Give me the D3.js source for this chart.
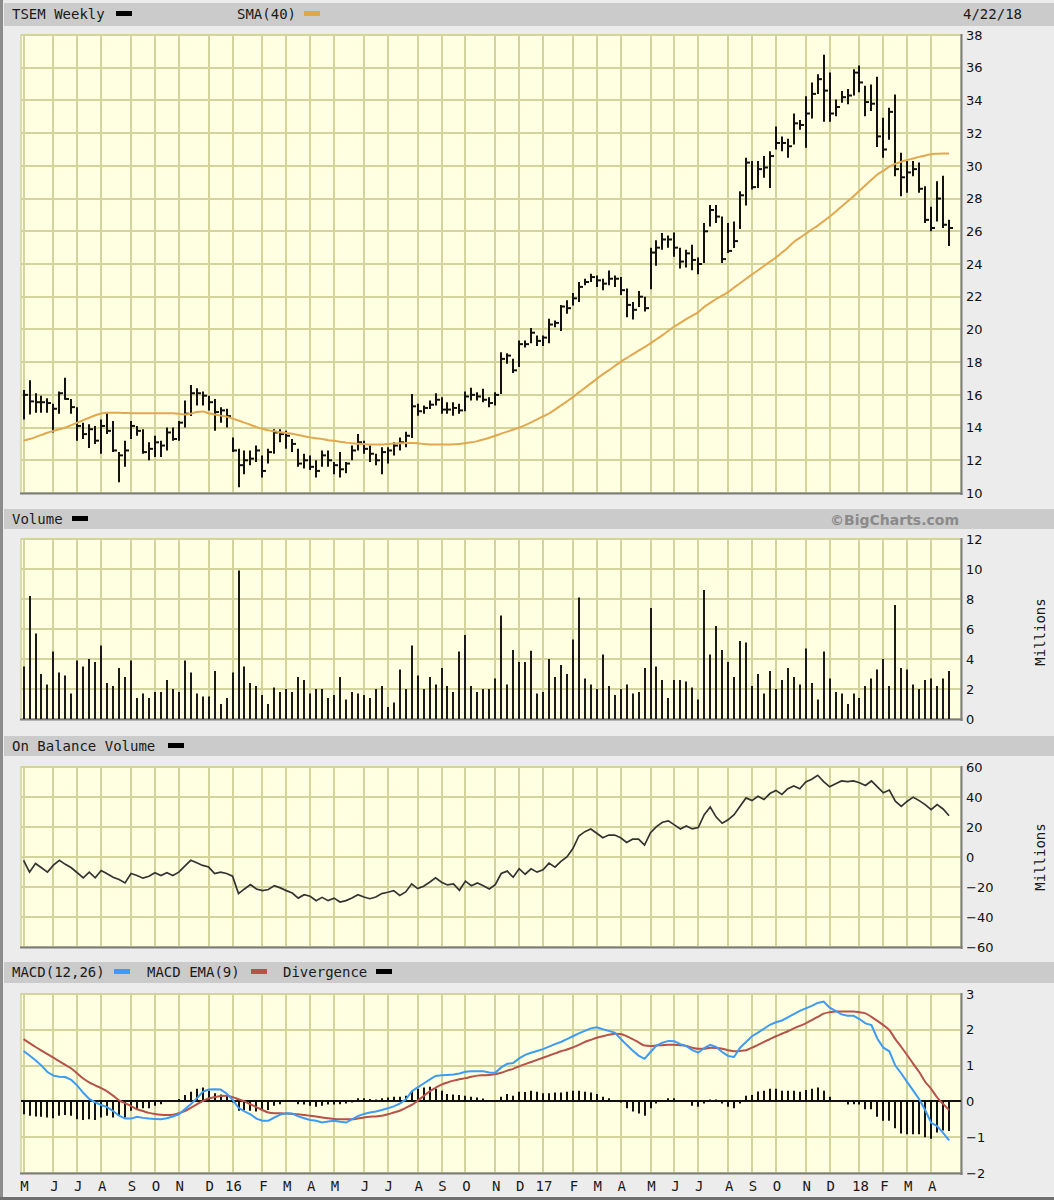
<!DOCTYPE html>
<html><head><meta charset="utf-8">
<script src="https://cdn.jsdelivr.net/npm/d3@7"></script>
<style>body{margin:0;background:#ececec}svg{display:block}</style>
</head><body><svg id="c" width="1054" height="1200"></svg>
<script>
// ---------- DATA ----------
const firstWeek = "2015-05-01", lastWeek = "2018-04-20";
const monthLabels = ["M","J","J","A","S","O","N","D","16","F","M","A","M","J","J","A","S","O","N","D","17","F","M","A","M","J","J","A","S","O","N","D","18","F","M","A"];
const priceTicks = [10,12,14,16,18,20,22,24,26,28,30,32,34,36,38];
const volumeTicks = [0,2,4,6,8,10,12];
const obvTicks = [-60,-40,-20,0,20,40,60];
const macdTicks = [-2,-1,0,1,2,3];

const high = [16.3,16.9,16.1,15.95,15.8,15.45,16.2,17.04,15.75,15.25,
14.3,14.2,14.1,14.5,14.9,14.4,12.5,13.2,14.4,14.1,
13.9,13.1,13.5,13.2,14.0,14.0,14.4,15.65,16.6,16.4,
16.2,15.95,15.75,15.25,15.15,13.4,12.7,12.6,12.6,12.9,
12.3,12.7,13.9,13.9,13.8,13.3,12.7,12.4,12.3,12.0,
12.6,12.6,11.9,12.5,11.9,12.9,13.6,13.2,12.9,12.4,
12.8,12.8,13.1,13.4,13.75,16.06,15.45,15.35,15.65,16.1,
15.86,15.55,15.55,15.45,16.2,16.43,16.16,16.37,15.86,16.16,
18.6,18.55,18.2,19.33,19.33,20.08,19.63,19.63,20.65,20.55,
21.5,21.78,22.22,22.9,23.1,23.4,23.3,23.1,23.6,23.3,
23.2,22.5,21.67,22.35,22.0,25.0,25.45,25.9,25.75,25.92,
25.0,24.87,25.17,24.4,26.5,27.6,27.6,26.9,26.5,26.6,
28.45,30.5,30.3,30.3,30.6,30.9,32.4,31.8,31.65,33.2,
32.8,34.26,35.1,35.6,36.8,35.7,34.06,34.57,34.7,35.9,
36.14,34.9,34.98,35.45,32.94,33.55,34.37,30.8,30.3,30.3,
30.2,28.76,27.5,29.06,29.4,26.7];
const low = [14.5,14.8,14.9,14.9,14.9,13.7,14.85,15.7,14.85,13.2,
13.3,12.75,13.0,12.4,13.6,12.5,10.65,11.6,13.3,13.5,
12.4,12.0,12.2,12.2,12.6,13.2,13.2,14.0,14.7,15.35,
15.35,15.05,13.8,14.3,14.0,12.5,10.35,11.15,11.7,11.9,
10.95,11.8,12.4,13.1,12.7,12.5,11.6,11.5,11.4,10.95,
11.6,11.6,11.15,10.95,11.2,12.0,12.6,12.4,11.9,11.7,
11.15,11.8,12.3,12.6,12.8,13.37,14.73,14.84,15.14,15.35,
14.84,14.84,14.73,14.84,15.0,15.65,15.65,15.55,15.24,15.35,
16.06,17.9,17.33,17.7,18.9,19.16,18.98,18.98,19.16,20.14,
19.9,20.96,21.47,21.67,22.7,22.9,22.6,22.4,22.7,22.6,
22.1,20.75,20.6,21.37,21.1,22.45,23.9,24.87,25.0,24.45,
23.73,23.78,23.62,23.37,24.06,26.3,26.5,24.06,24.67,24.98,
26.14,27.57,28.55,28.65,29.27,28.65,31.0,30.9,30.5,31.3,
32.2,31.1,32.9,34.4,32.7,32.7,33.04,33.86,33.76,34.3,
34.5,33.04,33.35,31.16,30.5,31.6,29.37,28.14,28.35,29.37,
28.35,26.5,26.0,26.6,26.2,25.1];
const close = [16.0,15.6,15.55,15.55,15.5,15.15,16.1,15.75,15.25,14.1,
13.6,13.9,13.2,14.1,13.8,12.6,12.3,12.6,14.1,13.8,
12.5,12.7,13.1,12.9,13.7,13.3,14.3,14.85,16.1,16.1,
15.95,15.55,14.95,15.05,14.7,12.6,11.7,12.0,12.1,12.6,
11.35,12.5,13.7,13.6,13.5,13.0,11.8,12.0,11.6,11.35,
12.3,12.0,11.7,11.45,11.8,12.6,13.1,12.7,12.4,12.0,
12.5,12.6,12.9,13.1,13.5,15.3,15.0,15.2,15.4,15.7,
15.1,15.1,15.2,15.05,15.9,16.0,15.9,15.7,15.5,16.0,
18.2,18.4,17.5,19.1,19.1,19.8,19.3,19.5,20.3,20.4,
21.4,21.3,21.9,22.6,22.9,23.2,23.0,22.8,23.1,23.1,
22.4,21.5,21.2,22.0,21.3,24.7,25.0,25.5,25.5,25.0,
24.15,24.65,24.25,24.0,26.0,27.3,26.9,24.3,24.8,25.4,
28.2,30.2,28.7,29.8,29.9,30.6,31.4,31.4,31.2,32.6,
32.5,33.2,34.4,35.3,34.6,33.2,33.6,34.2,34.3,35.7,
35.1,33.9,33.8,31.8,31.0,33.3,29.8,29.3,29.6,29.8,
28.6,26.7,26.2,28.0,26.4,26.2];
const sma40 = [13.2,13.3,13.42,13.55,13.68,13.8,13.9,14.0,14.15,14.3,
14.45,14.6,14.75,14.86,14.9,14.9,14.9,14.89,14.88,14.88,
14.88,14.88,14.88,14.88,14.88,14.87,14.84,14.8,14.85,14.95,
14.98,14.88,14.8,14.73,14.67,14.55,14.43,14.3,14.17,14.03,
13.93,13.83,13.77,13.72,13.67,13.62,13.55,13.47,13.4,13.35,
13.3,13.23,13.19,13.14,13.08,13.04,13.01,12.99,12.97,12.96,
12.97,13.0,13.02,13.04,13.05,13.06,13.04,13.0,12.97,12.96,
12.96,12.96,12.98,13.0,13.04,13.1,13.17,13.27,13.38,13.5,
13.63,13.75,13.88,14.0,14.15,14.32,14.5,14.68,14.86,15.1,
15.35,15.6,15.86,16.15,16.42,16.7,16.98,17.25,17.5,17.76,
18.02,18.25,18.47,18.7,18.92,19.15,19.4,19.65,19.92,20.18,
20.4,20.63,20.84,21.06,21.38,21.62,21.86,22.06,22.28,22.56,
22.82,23.1,23.36,23.62,23.88,24.14,24.4,24.7,25.0,25.35,
25.6,25.85,26.1,26.35,26.62,26.9,27.2,27.52,27.83,28.14,
28.48,28.82,29.15,29.47,29.7,29.95,30.12,30.25,30.36,30.45,
30.55,30.63,30.71,30.74,30.76,30.76];
const volume = [3.5,8.2,5.7,3.0,2.3,4.5,3.1,2.9,1.7,3.9,
3.5,4.0,3.8,4.9,2.4,2.2,3.4,2.8,3.9,1.4,
1.7,1.4,1.8,1.8,2.6,2.0,1.8,3.9,3.1,1.7,
1.5,1.5,3.2,1.0,1.4,3.1,9.9,3.5,2.4,2.2,
1.6,1.0,2.1,1.8,2.0,1.8,2.8,2.6,1.7,2.0,
2.0,1.4,1.6,2.8,1.3,1.8,1.7,1.6,1.4,2.0,
2.2,0.8,1.1,3.3,2.0,4.9,2.9,2.0,2.8,2.3,
3.4,2.2,1.8,4.5,5.6,2.2,1.8,2.0,2.0,2.7,
6.9,2.3,4.6,3.8,3.8,4.55,1.7,1.8,4.0,2.8,
3.6,3.0,5.3,8.1,2.7,2.3,2.0,4.3,2.2,1.6,
2.0,2.3,1.7,1.8,3.4,7.4,3.5,2.6,1.4,2.6,
2.6,2.5,2.1,1.3,8.6,4.3,6.2,4.6,3.8,2.8,
5.2,5.1,2.2,3.0,1.7,3.2,2.0,2.6,3.4,2.8,
2.3,4.7,2.4,1.3,4.5,2.7,1.8,1.7,1.0,1.7,
1.4,2.2,2.7,3.3,4.0,2.2,7.6,3.4,3.3,2.3,
2.0,2.6,2.7,2.2,2.7,3.2];
const obv = [-2.2,-10.1,-4.3,-7.2,-10.1,-5.4,-2.2,-4.9,-7.2,-10.5,
-13.9,-10.1,-13.9,-9.0,-11.2,-13.5,-15.0,-17.3,-11.0,-12.3,
-14.1,-12.8,-10.5,-12.3,-10.5,-12.3,-10.1,-6.1,-2.2,-3.8,
-5.6,-6.7,-11.0,-10.1,-11.0,-12.8,-24.4,-21.3,-18.4,-21.3,
-22.4,-21.7,-19.1,-20.6,-22.4,-24.0,-27.4,-25.1,-26.2,-29.1,
-26.9,-29.1,-27.4,-30.0,-29.1,-27.4,-25.1,-26.7,-27.8,-26.7,
-24.4,-23.5,-22.4,-25.6,-23.3,-17.9,-21.1,-19.5,-16.8,-13.9,
-16.8,-18.6,-17.9,-22.2,-16.1,-19.1,-17.3,-19.1,-21.3,-18.4,
-11.0,-9.4,-13.5,-7.8,-11.5,-7.9,-10.1,-8.6,-4.1,-6.8,
-2.9,0.0,5.6,14.0,16.9,18.7,15.8,12.8,14.6,14.6,
12.8,9.7,11.9,11.9,7.9,16.2,20.3,23.2,24.1,21.4,
18.7,20.7,18.7,19.6,28.2,33.3,26.6,22.5,24.8,28.2,
33.8,39.4,37.6,40.5,38.3,42.3,44.4,41.7,45.5,47.3,
45.5,50.0,51.8,54.5,50.2,46.8,48.9,50.7,50.2,50.7,
49.5,47.7,50.7,46.8,42.8,44.6,37.2,33.8,37.2,39.9,
37.6,34.9,31.5,34.9,32.0,27.5];
const macd = [1.41,1.28,1.15,1.0,0.82,0.72,0.69,0.68,0.6,0.44,
0.24,0.07,-0.03,-0.1,-0.16,-0.27,-0.4,-0.48,-0.48,-0.43,
-0.46,-0.48,-0.49,-0.5,-0.47,-0.42,-0.36,-0.22,-0.08,0.08,
0.27,0.33,0.34,0.33,0.22,0.05,-0.18,-0.28,-0.36,-0.48,
-0.54,-0.54,-0.45,-0.37,-0.33,-0.34,-0.42,-0.47,-0.52,-0.54,
-0.59,-0.56,-0.54,-0.57,-0.59,-0.5,-0.41,-0.35,-0.31,-0.28,
-0.24,-0.19,-0.14,-0.06,0.05,0.28,0.39,0.5,0.61,0.71,
0.73,0.74,0.75,0.78,0.83,0.84,0.84,0.84,0.81,0.8,
0.95,1.05,1.07,1.2,1.3,1.36,1.41,1.46,1.53,1.6,
1.66,1.74,1.82,1.9,1.97,2.04,2.07,2.02,1.97,1.92,
1.75,1.58,1.42,1.28,1.19,1.38,1.56,1.64,1.69,1.68,
1.6,1.54,1.43,1.36,1.49,1.58,1.52,1.38,1.27,1.24,
1.5,1.66,1.82,1.92,2.03,2.14,2.21,2.26,2.35,2.44,
2.53,2.6,2.67,2.75,2.79,2.62,2.53,2.43,2.39,2.39,
2.3,2.18,2.13,1.75,1.5,1.4,1.0,0.78,0.54,0.3,
0.06,-0.24,-0.6,-0.69,-0.88,-1.09];
const macdEma = [1.74,1.63,1.52,1.42,1.32,1.22,1.12,1.02,0.92,0.78,
0.64,0.53,0.45,0.37,0.28,0.16,0.03,-0.05,-0.13,-0.22,
-0.27,-0.32,-0.35,-0.37,-0.38,-0.37,-0.33,-0.27,-0.18,-0.08,
0.01,0.08,0.12,0.15,0.16,0.12,0.06,0.0,-0.08,-0.16,
-0.24,-0.31,-0.33,-0.33,-0.34,-0.35,-0.36,-0.38,-0.4,-0.42,
-0.45,-0.47,-0.49,-0.5,-0.5,-0.5,-0.48,-0.45,-0.43,-0.42,
-0.4,-0.36,-0.31,-0.26,-0.18,-0.1,0.02,0.15,0.28,0.38,
0.47,0.53,0.58,0.62,0.65,0.69,0.72,0.73,0.74,0.76,
0.8,0.86,0.91,0.98,1.04,1.1,1.16,1.22,1.28,1.34,
1.4,1.45,1.51,1.58,1.66,1.72,1.78,1.82,1.86,1.89,
1.88,1.82,1.74,1.65,1.56,1.55,1.56,1.57,1.58,1.58,
1.57,1.55,1.5,1.47,1.47,1.5,1.49,1.47,1.43,1.4,
1.41,1.43,1.5,1.58,1.66,1.74,1.82,1.89,1.96,2.04,
2.11,2.18,2.27,2.36,2.45,2.49,2.51,2.51,2.51,2.51,
2.49,2.46,2.36,2.25,2.13,1.99,1.74,1.52,1.29,1.05,
0.82,0.55,0.35,0.11,-0.07,-0.24];
const divergence = [-0.36,-0.4,-0.42,-0.43,-0.45,-0.47,-0.4,-0.38,-0.4,-0.5,
-0.52,-0.5,-0.52,-0.45,-0.4,-0.45,-0.4,-0.45,-0.26,-0.22,
-0.19,-0.19,-0.12,-0.08,-0.02,0.0,0.07,0.18,0.27,0.35,
0.39,0.3,0.23,0.19,0.16,-0.03,-0.26,-0.24,-0.26,-0.28,
-0.26,-0.24,-0.12,-0.08,-0.01,0.0,-0.08,-0.09,-0.12,-0.15,
-0.12,-0.09,-0.09,-0.08,-0.06,-0.03,0.09,0.09,0.07,0.05,
0.09,0.11,0.13,0.13,0.16,0.3,0.35,0.39,0.41,0.35,
0.3,0.21,0.19,0.18,0.16,0.13,0.11,0.08,0.0,0.02,
0.13,0.21,0.16,0.27,0.26,0.3,0.27,0.23,0.23,0.25,
0.25,0.27,0.3,0.3,0.27,0.25,0.21,0.13,0.09,0.0,
-0.03,-0.19,-0.28,-0.34,-0.4,-0.19,-0.06,0.04,0.09,0.09,
0.0,0.0,-0.12,-0.15,-0.06,0.05,0.05,-0.06,-0.15,-0.19,
-0.06,0.16,0.18,0.28,0.3,0.35,0.35,0.3,0.3,0.3,
0.27,0.32,0.35,0.39,0.3,0.13,0.0,0.0,-0.09,-0.08,
-0.09,-0.22,-0.22,-0.43,-0.54,-0.54,-0.75,-0.9,-0.92,-0.92,
-0.92,-1.0,-1.04,-0.87,-0.81,-0.83];

// ---------- LAYOUT ----------
const svg = d3.select('#c');
const plotL = 21, plotR = 961;
const parseD = s => new Date(s + "T00:00:00Z");
const weeks = d3.utcFriday.range(parseD(firstWeek), d3.utcDay.offset(parseD(lastWeek), 1));
const x = d3.scaleTime().domain([parseD("2015-04-28"), parseD("2018-05-04")]).range([plotL, plotR]);
const monthStarts = d3.utcMonth.range(parseD("2015-05-01"), parseD("2018-05-01"));
const gridDates = monthStarts.map(m => d3.utcDay.offset(d3.utcMonday.floor(m), 4));

const MONO = "'DejaVu Sans Mono', monospace";
const SANS = "'DejaVu Sans', Verdana, sans-serif";
const GRID = "#d3d39c", PLOTBG = "#ffffe1", HEAD = "#cbcbcb";

svg.append('rect').attr('width',1054).attr('height',1200).attr('fill','#ececec');
svg.append('line').attr('x1',1.5).attr('x2',1.5).attr('y1',0).attr('y2',1200).attr('stroke','#8c8c8c').attr('stroke-width',3);
svg.append('line').attr('x1',0).attr('x2',1054).attr('y1',1198.5).attr('y2',1198.5).attr('stroke','#6f6f6f').attr('stroke-width',3);

const headers = [{y:3,h:23,ty:19},{y:509,h:20,ty:524},{y:736,h:20,ty:751},{y:962,h:21,ty:977}];
headers.forEach(h => svg.append('rect').attr('x',4).attr('y',h.y).attr('width',1050).attr('height',h.h).attr('fill',HEAD));

function headText(str, xx, ty){
  svg.append('text').attr('x',xx).attr('y',ty).attr('font-family',MONO).attr('font-size',14).attr('fill','#1a1a1a').text(str);
}
function swatch(xx, ty, color){
  svg.append('rect').attr('x',xx).attr('y',ty-8).attr('width',16).attr('height',5).attr('fill',color);
}
headText("TSEM Weekly",12,headers[0].ty); swatch(116,headers[0].ty,'#000');
headText("SMA(40)",237,headers[0].ty); swatch(304,headers[0].ty,'#e0a64a');
svg.append('text').attr('x',1022).attr('y',headers[0].ty).attr('text-anchor','end').attr('font-family',MONO).attr('font-size',14).attr('fill','#1a1a1a').text("4/22/18");
headText("Volume",12,headers[1].ty); swatch(72,headers[1].ty,'#000');
svg.append('text').attr('x',959).attr('y',headers[1].ty+1).attr('text-anchor','end').attr('font-family',SANS).attr('font-weight','bold').attr('font-size',14).attr('fill','#8a8a8a').text("©BigCharts.com");
headText("On Balance Volume",12,headers[2].ty); swatch(168,headers[2].ty,'#000');
headText("MACD(12,26)",12,headers[3].ty); swatch(114,headers[3].ty,'#3d9bf5');
headText("MACD EMA(9)",147,headers[3].ty); swatch(251,headers[3].ty,'#b5524a');
headText("Divergence",283,headers[3].ty); swatch(376,headers[3].ty,'#000');

function panel(top, bottom, domain, ticks){
  const y = d3.scaleLinear().domain(domain).range([bottom, top]);
  const g = svg.append('g');
  g.append('rect').attr('x',plotL).attr('y',top).attr('width',plotR-plotL).attr('height',bottom-top).attr('fill',PLOTBG).attr('stroke',GRID).attr('stroke-width',1.5);
  g.selectAll('.hg').data(ticks).enter().append('line')
    .attr('x1',plotL).attr('x2',plotR).attr('y1',d=>Math.round(y(d))).attr('y2',d=>Math.round(y(d)))
    .attr('stroke',GRID).attr('stroke-width',2);
  g.selectAll('.vg').data(gridDates).enter().append('line')
    .attr('x1',d=>Math.round(x(d))).attr('x2',d=>Math.round(x(d))).attr('y1',top).attr('y2',bottom)
    .attr('stroke',GRID).attr('stroke-width',2);
  g.append('line').attr('x1',plotR+0.5).attr('x2',plotR+0.5).attr('y1',top-1).attr('y2',bottom+2).attr('stroke','#7c7c7c').attr('stroke-width',2);
  g.append('line').attr('x1',plotL-1).attr('x2',plotR+1.5).attr('y1',bottom+0.5).attr('y2',bottom+0.5).attr('stroke','#7c7c7c').attr('stroke-width',2);
  g.selectAll('.tl').data(ticks).enter().append('text')
    .attr('x',966).attr('y',d=>y(d)).attr('dy','0.36em')
    .attr('font-family',SANS).attr('font-size',13).attr('fill','#111')
    .text(d=> d<0 ? "\u2212"+Math.abs(d) : d);
  return y;
}

// ----- Price -----
const yP = panel(35, 493, [10,38], priceTicks);
const pg = svg.append('g');
weeks.forEach((w,i)=>{
  const xx = Math.round(x(w));
  pg.append('line').attr('x1',xx).attr('x2',xx).attr('y1',yP(high[i])).attr('y2',yP(low[i])).attr('stroke','#111').attr('stroke-width',2);
  pg.append('line').attr('x1',xx).attr('x2',xx+4).attr('y1',yP(close[i])).attr('y2',yP(close[i])).attr('stroke','#111').attr('stroke-width',2);
});
svg.append('path').datum(sma40).attr('fill','none').attr('stroke','#e2a850').attr('stroke-width',2)
  .attr('d', d3.line().x((d,i)=>x(weeks[i])).y(d=>yP(d)).curve(d3.curveMonotoneX));

// ----- Volume -----
const yV = panel(539, 719, [0,12], volumeTicks);
svg.append('g').selectAll('line').data(volume).enter().append('line')
  .attr('x1',(d,i)=>Math.round(x(weeks[i]))).attr('x2',(d,i)=>Math.round(x(weeks[i])))
  .attr('y1',yV(0)).attr('y2',d=>yV(d)).attr('stroke','#1a1a1a').attr('stroke-width',2);
svg.append('text').attr('transform','translate(1045,632) rotate(-90)').attr('text-anchor','middle')
  .attr('font-family',MONO).attr('font-size',14).attr('fill','#1a1a1a').text('Millions');

// ----- OBV -----
const yO = panel(767, 947, [-60,60], obvTicks);
svg.append('path').datum(obv).attr('fill','none').attr('stroke','#333').attr('stroke-width',1.7)
  .attr('d', d3.line().x((d,i)=>x(weeks[i])).y(d=>yO(d)));
svg.append('text').attr('transform','translate(1045,857) rotate(-90)').attr('text-anchor','middle')
  .attr('font-family',MONO).attr('font-size',14).attr('fill','#1a1a1a').text('Millions');

// ----- MACD -----
const yM = panel(994, 1173, [-2,3], macdTicks);
svg.append('g').selectAll('line').data(divergence).enter().append('line')
  .attr('x1',(d,i)=>Math.round(x(weeks[i]))).attr('x2',(d,i)=>Math.round(x(weeks[i])))
  .attr('y1',yM(0)).attr('y2',d=>yM(d)).attr('stroke','#111').attr('stroke-width',2);
svg.append('line').attr('x1',plotL).attr('x2',plotR).attr('y1',Math.round(yM(0))).attr('y2',Math.round(yM(0))).attr('stroke','#111').attr('stroke-width',2);
svg.append('path').datum(macdEma).attr('fill','none').attr('stroke','#b5524a').attr('stroke-width',2)
  .attr('d', d3.line().x((d,i)=>x(weeks[i])).y(d=>yM(d)).curve(d3.curveMonotoneX));
svg.append('path').datum(macd).attr('fill','none').attr('stroke','#3d9bf5').attr('stroke-width',2)
  .attr('d', d3.line().x((d,i)=>x(weeks[i])).y(d=>yM(d)));

// ----- Month labels -----
svg.append('g').selectAll('text').data(gridDates).enter().append('text')
  .attr('x',d=>x(d)+1).attr('y',1191).attr('text-anchor','middle')
  .attr('font-family',MONO).attr('font-size',14).attr('fill','#1a1a1a')
  .text((d,i)=>monthLabels[i]);
</script></body></html>
